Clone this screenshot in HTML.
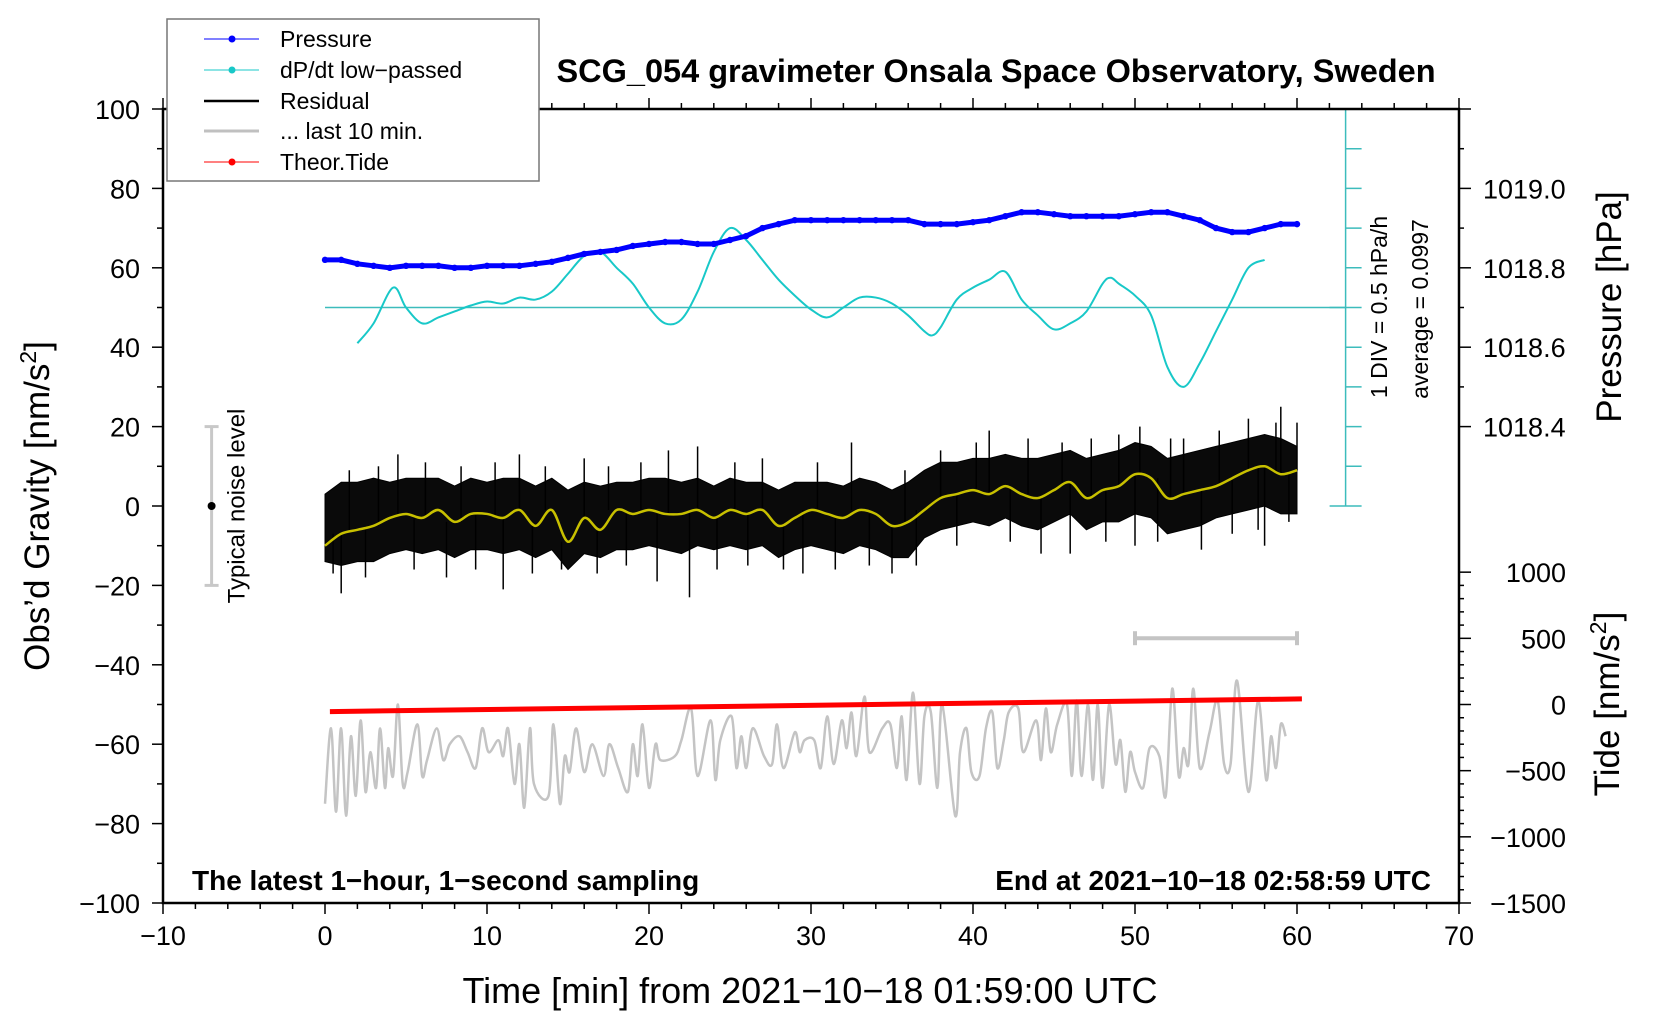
<!DOCTYPE html>
<html><head><meta charset="utf-8"><style>
html,body{margin:0;padding:0;background:#fff}
svg{display:block}
text{font-family:"Liberation Sans",Arial,sans-serif;fill:#000}
</style></head><body>
<svg id="chart" width="1660" height="1020" viewBox="0 0 1660 1020" xmlns="http://www.w3.org/2000/svg" style="position:absolute;left:0;top:0">
<g id="marks"></g>
<g id="axes"></g>
</svg>
<script>
// ---- data ----
const pressT = [0,1,2,3,4,5,6,7,8,9,10,11,12,13,14,15,16,17,18,19,20,21,22,23,24,25,26,27,28,29,30,31,32,33,34,35,36,37,38,39,40,41,42,43,44,45,46,47,48,49,50,51,52,53,54,55,56,57,58,59,60];
const pressV = [1018.82,1018.82,1018.81,1018.805,1018.8,1018.805,1018.805,1018.805,1018.8,1018.8,1018.805,1018.805,1018.805,1018.81,1018.815,1018.825,1018.835,1018.84,1018.845,1018.855,1018.86,1018.865,1018.865,1018.86,1018.86,1018.87,1018.88,1018.90,1018.91,1018.92,1018.92,1018.92,1018.92,1018.92,1018.92,1018.92,1018.92,1018.91,1018.91,1018.91,1018.915,1018.92,1018.93,1018.94,1018.94,1018.935,1018.93,1018.93,1018.93,1018.93,1018.935,1018.94,1018.94,1018.93,1018.92,1018.90,1018.89,1018.89,1018.90,1018.91,1018.91];
const dpT = [2,3,4.2,5,6,7,8,9,10,11,12,13,14,15,16,17,18,19,20,21,22,23,24,25,26,27,28,29,30,31,32,33,34,35,36,37,37.5,38,39,40,41,42,43,44,45,46,47,48,48.5,49,50,51,52,53,54,55,56,57,58];
const dpV = [41,46,55,50,46,47.5,49,50.5,51.5,51,52.5,52,54,58.5,63,64,60,56,50,46,47,54,64,70,67,62,57,53,49.5,47.5,50,52.5,52.5,51,48,44,43,45,52,55,57,59,52,48,44.5,46,49,56,57.5,56,53,48,35,30,36,44,52,60,62];
const resT = [0,1,2,3,4,5,6,7,8,9,10,11,12,13,14,15,16,17,18,19,20,21,22,23,24,25,26,27,28,29,30,31,32,33,34,35,36,37,38,39,40,41,42,43,44,45,46,47,48,49,50,51,52,53,54,55,56,57,58,59,60];
const resHi = [3,6,6,7,6,7,7,7,5,7,6,7,7,5,7,4,6,5,6,6,7,7,6,7,5,7,6,6,4,6,6,6,5,7,6,4,6,9,11,11,12,12,13,12,12,13,14,12,13,14,16,15,12,13,14,15,16,17,18,17,15];
const resLo = [-14,-15,-14,-14,-12,-11,-12,-11,-13,-11,-11,-12,-11,-13,-11,-16,-12,-13,-11,-11,-10,-11,-12,-10,-11,-10,-11,-10,-13,-11,-10,-11,-12,-10,-11,-13,-13,-8,-6,-5,-4,-5,-3,-5,-6,-4,-2,-6,-4,-4,-2,-3,-7,-6,-5,-3,-2,-1,0,-2,-2];
const spikeT = [0.5,1,1.5,2.5,3.3,4.5,5.5,6.2,7.5,8.4,9.3,10.5,11,12,12.8,13.6,14.6,16,16.8,17.5,18.6,19.5,20.5,21.2,22.5,23,24.2,25.3,26.1,27,28.3,29.5,30.4,31.5,32.5,33.6,35,35.8,36.5,38,39,40.2,41,42.3,43.4,44.2,45.5,46,47.3,48.2,49,50,50.3,51.4,52.2,53,54.1,55.2,56,57,57.6,58,58.7,59,59.5,60];
const spikeV = [-17,-22,9,-18,10,13,-16,11,-18,10,-16,11,-21,13,-17,10,-16,12,-17,10,-15,11,-19,14,-23,15,-16,11,-15,12,-16,-17,11,-16,16,-15,-17,9,-15,14,-10,16,19,-9,17,-12,16,-12,17,-9,18,-10,20,-9,17,17,-11,19,-7,22,-6,-10,21,25,-4,21];
const smoothV = [-10,-7,-6,-5,-3,-2,-3,-1,-4,-2,-2,-3,-1,-5,-1,-9,-3,-6,-1,-2,-1,-2,-2,-1,-3,-1,-2,-1,-5,-3,-1,-2,-3,-1,-2,-5,-4,-1,2,3,4,3,5,3,2,4,6,2,4,5,8,7,2,3,4,5,7,9,10,8,9];
const grayT = [0,0.37,0.68,0.99,1.3,1.6,1.9,2.2,2.5,2.8,3.15,3.4,3.7,3.9,4.2,4.5,4.8,5.1,5.7,6.0,6.3,6.9,7.3,7.7,8.3,8.8,9.3,9.7,10.1,10.7,11,11.3,11.7,12,12.3,12.65,12.9,13.8,14.1,14.5,14.8,15.1,15.5,16,16.5,17.2,17.55,18.1,18.7,19,19.3,19.6,20,20.4,20.7,21.6,22,22.6,23,23.8,24.1,24.4,25.1,25.4,25.7,26,26.4,27.1,27.6,27.9,28.3,29,29.3,29.6,30.2,30.6,31,31.4,31.9,32.2,32.5,32.8,33.3,33.6,34.4,34.9,35.3,35.6,35.9,36.3,36.7,37,37.4,37.8,38.1,38.9,39.2,39.6,39.9,40.4,40.8,41.2,41.5,41.9,42.2,42.8,43.1,43.9,44.2,44.5,44.8,45.2,45.8,46.1,46.4,46.7,47.1,47.4,47.7,48,48.4,48.8,49.1,49.4,49.7,50,50.5,50.9,51.5,51.9,52.3,52.7,53,53.3,53.6,54,54.6,55.1,55.5,55.9,56.3,57,57.6,58.1,58.4,58.7,59,59.3];
const grayV = [-75,-56,-77,-56,-78,-58,-73,-54,-72,-62,-71,-56,-71,-61,-68,-50,-70,-67,-55,-68,-64,-56,-64,-60,-58,-62,-66,-56,-62,-59,-63,-56,-70,-60,-76,-56,-70,-73,-55,-75,-63,-67,-56,-67,-60,-68,-60,-66,-72,-60,-68,-55,-71,-60,-64,-63,-59,-51,-68,-54,-69,-59,-53,-66,-58,-66,-56,-63,-65,-55,-66,-57,-62,-59,-59,-66,-53,-65,-54,-61,-52,-63,-48,-62,-56,-55,-66,-53,-69,-47,-70,-53,-52,-71,-50,-78,-62,-56,-67,-68,-56,-52,-66,-59,-52,-51,-62,-54,-64,-51,-62,-55,-50,-68,-49,-68,-50,-69,-50,-71,-50,-65,-59,-72,-62,-67,-71,-61,-63,-73,-46,-68,-61,-65,-46,-66,-57,-49,-65,-65,-44,-72,-49,-69,-58,-66,-55,-58];
const tideT = [0.3,60.3];
const tideV = [-54,42];
const xTicks = [-10,0,10,20,30,40,50,60,70];
const yTicks = [-100,-80,-60,-40,-20,0,20,40,60,80,100];
const pTicks = ["1018.4","1018.6","1018.8","1019.0"];
const tTicks = [-1500,-1000,-500,0,500,1000];

// ---- scales ----
const L=163,R=1459,T=109,B=903;
const X=v=>L+(v+10)*(R-L)/80;
const Y=g=>T+(100-g)*(B-T)/200;
const YP=p=>Y((p-1018.2)*100);
const YT=t=>Y(t/30-50);
const NS="http://www.w3.org/2000/svg";
const marks=document.getElementById('marks'), axes=document.getElementById('axes');
function mk(tag,attrs,parent,txt){const e=document.createElementNS(NS,tag);for(const k in attrs)e.setAttribute(k,attrs[k]);if(txt!==undefined)e.textContent=txt;(parent||marks).appendChild(e);return e;}
function pts(xs,ys,fy){return xs.map((t,i)=>X(t).toFixed(1)+','+fy(ys[i]).toFixed(1)).join(' ');}
function smoothPath(xs,ys,fy){const p=xs.map((t,i)=>[X(t),fy(ys[i])]);let d='M'+p[0][0]+','+p[0][1];for(let i=0;i<p.length-1;i++){const p0=p[i-1]||p[i],p1=p[i],p2=p[i+1],p3=p[i+2]||p2;d+=' C'+(p1[0]+(p2[0]-p0[0])/6)+','+(p1[1]+(p2[1]-p0[1])/6)+' '+(p2[0]-(p3[0]-p1[0])/6)+','+(p2[1]-(p3[1]-p1[1])/6)+' '+p2[0]+','+p2[1];}return d;}

let e;
e=mk('line',{x1:X(0),x2:X(63),y1:Y(50),y2:Y(50),stroke:'#3cbcbc','stroke-width':1.5});


e=mk('line',{x1:X(63),x2:X(63),y1:Y(100),y2:Y(0),stroke:'#3cbcbc','stroke-width':1.5});


for(let g=0;g<=100;g+=10){const end=(g===0||g===100||g===50);const t=mk('line',{x1:X(63)-(end?16:0),x2:X(63)+16,y1:Y(g),y2:Y(g),stroke:'#3cbcbc','stroke-width':1.5});

}

e=mk('path',{d:smoothPath(grayT,grayV,Y),fill:'none',stroke:'#c4c4c4','stroke-width':2.5});



e=mk('polyline',{points:pts(tideT,tideV,YT),fill:'none',stroke:'#ff0000','stroke-width':5});



const band=pts(resT,resHi,Y)+' '+pts(resT.slice().reverse(),resLo.slice().reverse(),Y);
e=mk('polygon',{points:band,fill:'#0a0a0a',stroke:'#000','stroke-width':1});


spikeT.forEach((t,i)=>{const mid=smoothV[Math.round(t)];const s=mk('line',{x1:X(t),x2:X(t),y1:Y(mid),y2:Y(spikeV[i]),stroke:'#000','stroke-width':1.5});

});
e=mk('path',{d:smoothPath(resT,smoothV,Y),fill:'none',stroke:'#c8c000','stroke-width':2.5});



e=mk('path',{d:smoothPath(dpT,dpV,Y),fill:'none',stroke:'#18c8c8','stroke-width':2});



e=mk('polyline',{points:pts(pressT,pressV,YP),fill:'none',stroke:'#0000ff','stroke-width':5});


pressT.forEach((t,i)=>{const c=mk('circle',{cx:X(t),cy:YP(pressV[i]),r:3.2,fill:'#0000ff'});

});

e=mk('line',{x1:X(-7),x2:X(-7),y1:Y(20),y2:Y(-20),stroke:'#c8c8c8','stroke-width':3});


[20,-20].forEach(g=>{const c=mk('line',{x1:X(-7)-7,x2:X(-7)+7,y1:Y(g),y2:Y(g),stroke:'#c8c8c8','stroke-width':3});

});
e=mk('circle',{cx:X(-7),cy:Y(0),r:4,fill:'#000'});


e=mk('text',{x:0,y:0,transform:`translate(${X(-7)+33},${Y(0)}) rotate(-90)`,'text-anchor':'middle','font-size':24},marks,'Typical noise level');



e=mk('line',{x1:X(50),x2:X(60),y1:Y(-33.3),y2:Y(-33.3),stroke:'#c4c4c4','stroke-width':4});


[50,60].forEach(t=>{const c=mk('line',{x1:X(t),x2:X(t),y1:Y(-33.3)-7,y2:Y(-33.3)+7,stroke:'#c4c4c4','stroke-width':4});

});

// ---- axes ----
e=mk('rect',{x:L,y:T,width:R-L,height:B-T,fill:'none',stroke:'#000','stroke-width':2.5},axes);


for(let v=-10;v<=70;v+=2){const maj=v%10===0;
const a=mk('line',{x1:X(v),x2:X(v),y1:B,y2:B+(maj?11:6),stroke:'#000','stroke-width':1.5},axes);


const b=mk('line',{x1:X(v),x2:X(v),y1:T,y2:T-(maj?11:6),stroke:'#000','stroke-width':1.5},axes);

}
xTicks.forEach(v=>{const t=mk('text',{x:X(v),y:945,'text-anchor':'middle','font-size':27},axes,v<0?'\u2212'+(-v):String(v));

});
for(let g=-100;g<=100;g+=10){const maj=g%20===0;
const a=mk('line',{x1:L,x2:L-(maj?11:6),y1:Y(g),y2:Y(g),stroke:'#000','stroke-width':1.5},axes);

}
yTicks.forEach(g=>{const t=mk('text',{x:140,y:Y(g)+10,'text-anchor':'end','font-size':27},axes,g<0?'\u2212'+(-g):String(g));

});
for(let g=20;g<=100;g+=10){const maj=g%20===0;
const a=mk('line',{x1:R,x2:R+(maj?12:5),y1:Y(g),y2:Y(g),stroke:'#000','stroke-width':1.5},axes);

}
pTicks.forEach(p=>{const t=mk('text',{x:1483,y:YP(+p)+10,'font-size':27},axes,p);

});
for(let tv=-1500;tv<=1000;tv+=100){const maj=tv%500===0;
const a=mk('line',{x1:R,x2:R+(maj?12:5),y1:YT(tv),y2:YT(tv),stroke:'#000','stroke-width':1.5},axes);

}
tTicks.forEach(tv=>{const t=mk('text',{x:1566,y:YT(tv)+10,'text-anchor':'end','font-size':27},axes,tv<0?'\u2212'+(-tv):String(tv));

});
</script>
<svg width="1660" height="1020" style="position:absolute;left:0;top:0">
<text x="996" y="82" text-anchor="middle" font-size="32.5" font-weight="bold">SCG_054 gravimeter Onsala Space Observatory, Sweden</text>
<text x="192" y="890" font-size="28" font-weight="bold">The latest 1−hour, 1−second sampling</text>
<text x="1431" y="890" text-anchor="end" font-size="28" font-weight="bold">End at 2021−10−18 02:58:59 UTC</text>
<text x="810" y="1003" text-anchor="middle" font-size="36">Time [min] from 2021−10−18 01:59:00 UTC</text>
<text transform="translate(49,506) rotate(-90)" text-anchor="middle" font-size="35">Obs’d Gravity [nm/s<tspan dy="-13" font-size="23">2</tspan><tspan dy="13">]</tspan></text>
<text transform="translate(1621,307) rotate(-90)" text-anchor="middle" font-size="35">Pressure [hPa]</text>
<text transform="translate(1619,704) rotate(-90)" text-anchor="middle" font-size="35">Tide [nm/s<tspan dy="-13" font-size="23">2</tspan><tspan dy="13">]</tspan></text>
<text transform="translate(1387,307) rotate(-90)" text-anchor="middle" font-size="23">1 DIV = 0.5 hPa/h</text>
<text transform="translate(1428,309) rotate(-90)" text-anchor="middle" font-size="23">average = 0.0997</text>
<g>
<rect x="167" y="19" width="372" height="162" fill="#fff" stroke="#777" stroke-width="1.5"/>
<line x1="204" x2="259" y1="39" y2="39" stroke="#0000ff" stroke-width="1"/><circle cx="232" cy="39" r="3.5" fill="#0000ff"/>
<text x="280" y="47" font-size="23">Pressure</text>
<line x1="204" x2="259" y1="70" y2="70" stroke="#18c8c8" stroke-width="1"/><circle cx="232" cy="70" r="3.5" fill="#18c8c8"/>
<text x="280" y="78" font-size="23">dP/dt low−passed</text>
<line x1="204" x2="259" y1="101" y2="101" stroke="#000" stroke-width="2.5"/>
<text x="280" y="109" font-size="23">Residual</text>
<line x1="204" x2="259" y1="131" y2="131" stroke="#c0c0c0" stroke-width="3"/>
<text x="280" y="139" font-size="23">... last 10 min.</text>
<line x1="204" x2="259" y1="162" y2="162" stroke="#ff0000" stroke-width="1"/><circle cx="232" cy="162" r="3.5" fill="#ff0000"/>
<text x="280" y="170" font-size="23">Theor.Tide</text>
</g>
</svg>
</body></html>
